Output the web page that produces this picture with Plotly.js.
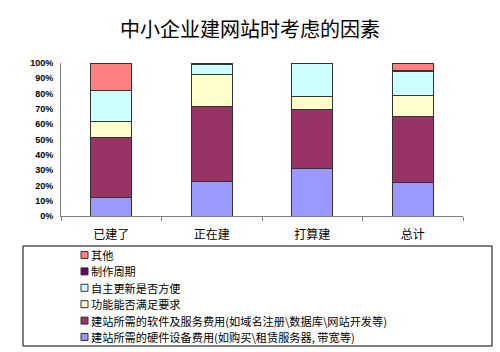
<!DOCTYPE html>
<html>
<head>
<meta charset="utf-8">
<script src="https://cdn.plot.ly/plotly-3.0.1.min.js"></script>
<style>html,body{margin:0;padding:0;background:#fff;}#chart{width:500px;height:352px;}</style>
</head>
<body>
<div id="chart"></div>
<script>
const categories = ['已建了', '正在建', '打算建', '总计'];
const seriesNames = [
  '建站所需的硬件设备费用(如购买\\租赁服务器, 带宽等)',
  '建站所需的软件及服务费用(如域名注册\\数据库\\网站开发等)',
  '功能能否满足要求',
  '自主更新是否方便',
  '制作周期',
  '其他'
];
const hardware = [12, 22.7, 31.2, 22];
const software = [39, 48.9, 38.7, 42.8];
const functionOk = [10.5, 21.2, 8.5, 14];
const selfUpdate = [20.5, 5.9, 21.6, 15.5];
const cycle = [0, 1.3, 0, 0.7];
const others = [18, 0, 0, 5];
const colors = ['#9999FF', '#993366', '#FFFFCC', '#CCFFFF', '#660066', '#FF8080'];
const yTicks = [0,10,20,30,40,50,60,70,80,90,100];

const allSeries = [hardware, software, functionOk, selfUpdate, cycle, others];
const traces = allSeries.map((vals, i) => ({
  type: 'bar',
  name: seriesNames[i],
  x: categories,
  y: vals,
  width: 0.41,
  marker: {color: colors[i], line: {color: '#333333', width: 1}},
  hoverinfo: 'none',
  showlegend: false
}));

// plot area geometry (pixels) used to convert to paper coords for the legend box
const W = 500, H = 352, L = 61, R = 37, T = 63, B = 136;
const pw = W - L - R, ph = H - T - B;
const px = x => (x - L) / pw;
const py = y => (H - B - y) / ph;

const cjk = '"Noto Sans CJK SC", "Noto Sans", sans-serif';
const legendFont = 11.2;
const rowGap = 16.4;
const firstRow = 255;
const shapes = [{
  type: 'rect', xref: 'paper', yref: 'paper',
  x0: px(23), x1: px(492), y0: py(346), y1: py(246),
  line: {color: '#000', width: 1}, fillcolor: 'rgba(0,0,0,0)'
}];
const annotations = [];
// custom legend, reversed order (其他 first)
const legendOrder = seriesNames.map((_, k) => seriesNames.length - 1 - k);
legendOrder.forEach((i, k) => {
  const cy = firstRow + rowGap * k;
  shapes.push({
    type: 'rect', xref: 'paper', yref: 'paper',
    x0: px(81), x1: px(88), y0: py(cy + 3.5), y1: py(cy - 3.5),
    line: {color: '#333333', width: 1}, fillcolor: colors[i]
  });
  annotations.push({
    xref: 'paper', yref: 'paper', x: px(90), y: py(cy), xanchor: 'left', yanchor: 'middle',
    text: seriesNames[i], showarrow: false, borderpad: 0,
    font: {family: cjk, size: legendFont, color: '#000'}
  });
});

const layout = {
  width: W, height: H,
  margin: {l: L, r: R, t: T, b: B},
  paper_bgcolor: '#ffffff', plot_bgcolor: '#ffffff',
  barmode: 'stack',
  showlegend: false,
  title: {text: '中小企业建网站时考虑的因素', font: {family: cjk, size: 20, color: '#000'},
          x: 0.5, xanchor: 'center', y: 1 - 30/352, yanchor: 'middle', yref: 'container'},
  xaxis: {
    type: 'category', tickson: 'boundaries', ticks: 'outside', ticklen: 4, tickcolor: '#808080',
    showline: true, linecolor: '#808080', linewidth: 1, showgrid: false, zeroline: false,
    tickfont: {family: cjk, size: 12, color: '#000'}, ticklabelstandoff: 8,
    fixedrange: true, automargin: false
  },
  yaxis: {
    range: [0, 100], tickvals: yTicks, ticktext: yTicks.map(v => v + '%'),
    ticks: '', showline: true, linecolor: '#808080', linewidth: 1, showgrid: false, zeroline: false,
    tickfont: {family: '"Liberation Sans", Arial, sans-serif', size: 9, color: '#000', weight: 'bold'},
    ticklabelstandoff: 5, fixedrange: true, automargin: false
  },
  shapes: shapes,
  annotations: annotations
};
Plotly.newPlot('chart', traces, layout, {displayModeBar: false, staticPlot: true});
</script>
</body>
</html>
